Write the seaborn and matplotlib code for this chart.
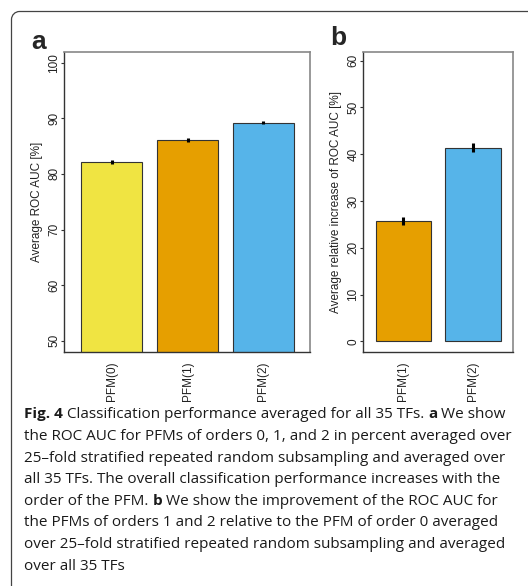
import numpy as np
import pandas as pd
import matplotlib
matplotlib.use('Agg')
import matplotlib.pyplot as plt
from matplotlib.patches import PathPatch
from matplotlib.path import Path
from matplotlib.transforms import IdentityTransform
import seaborn as sns

# panel a: average ROC AUC per PFM order
models_a = ['PFM(0)', 'PFM(1)', 'PFM(2)']
auc_mean = [82.2, 86.1, 89.2]
auc_err = [0.35, 0.3, 0.3]

# panel b: relative increase versus PFM(0)
models_b = ['PFM(1)', 'PFM(2)']
inc_mean = [25.7, 41.4]
inc_err = [0.9, 0.9]

colors = {'PFM(0)': '#F0E442', 'PFM(1)': '#E69F00', 'PFM(2)': '#56B4E9'}

caption = [
    [('Fig. 4', True), (' Classification performance averaged for all 35 TFs. ', False),
     ('a', True), (' We show', False)],
    [('the ROC AUC for PFMs of orders 0, 1, and 2 in percent averaged over', False)],
    [('25\u2013fold stratified repeated random subsampling and averaged over', False)],
    [('all 35 TFs. The overall classification performance increases with the', False)],
    [('order of the PFM. ', False), ('b', True), (' We show the improvement of the ROC AUC for', False)],
    [('the PFMs of orders 1 and 2 relative to the PFM of order 0 averaged', False)],
    [('over 25\u2013fold stratified repeated random subsampling and averaged', False)],
    [('over all 35 TFs', False)],
]

sns.set_style('white')
plt.rcParams['font.family'] = ['Liberation Sans', 'DejaVu Sans']

W, H = 528, 586
fig = plt.figure(figsize=(W / 100, H / 100), dpi=100)


def px_axes(x0, x1, y0, y1):
    return fig.add_axes([x0 / W, 1 - y1 / H, (x1 - x0) / W, (y1 - y0) / H])


def style_axes(ax, ylabel, ticks):
    ax.set_ylabel(ylabel, fontsize=8.5, color='#222222', labelpad=4)
    ax.set_xlabel('')
    ax.set_yticks(ticks)
    ax.set_yticklabels([str(t) for t in ticks], rotation=90, va='center', fontsize=8.5, color='#222222')
    ax.tick_params(axis='y', left=True, length=2.2, width=0.8, pad=0.5, color='#333333')
    ax.tick_params(axis='x', bottom=False, pad=3)
    for lab in ax.get_xticklabels():
        lab.set_rotation(90)
        lab.set_fontsize(8.5)
        lab.set_va('top')
        lab.set_color('#222222')
    for side in ['left', 'bottom']:
        ax.spines[side].set_color('#333333')
        ax.spines[side].set_linewidth(1.0)
    for side in ['top', 'right']:
        ax.spines[side].set_color('#888888')
        ax.spines[side].set_linewidth(1.2)


# panel a
df_a = pd.DataFrame({'model': models_a, 'auc': auc_mean})
ax1 = px_axes(64, 310, 52, 352)
sns.barplot(data=df_a, x='model', y='auc', hue='model', palette=colors, legend=False, saturation=1,
            width=0.8, edgecolor='#333333', linewidth=0.8, errorbar=None, ax=ax1)
ax1.errorbar(range(len(models_a)), auc_mean, yerr=auc_err, fmt='none', ecolor='black',
             elinewidth=2.2, capsize=0)
ax1.set_xlim(-0.63, 2.616)
ax1.set_ylim(48.0, 101.9)
style_axes(ax1, 'Average ROC AUC [%]', [50, 60, 70, 80, 90, 100])

# panel b
df_b = pd.DataFrame({'model': models_b, 'inc': inc_mean})
ax2 = px_axes(363, 512.5, 52, 352)
sns.barplot(data=df_b, x='model', y='inc', hue='model', palette=colors, legend=False, saturation=1,
            width=0.8, edgecolor='#333333', linewidth=0.8, errorbar=None, ax=ax2)
ax2.errorbar(range(len(models_b)), inc_mean, yerr=inc_err, fmt='none', ecolor='black',
             elinewidth=2.2, capsize=0)
ax2.set_xlim(-0.584, 1.573)
ax2.set_ylim(-2.29, 61.86)
style_axes(ax2, 'Average relative increase of ROC AUC [%]', [0, 10, 20, 30, 40, 50, 60])

# panel letters
fig.text(31 / W, 1 - 49 / H, 'a', fontsize=19, fontweight='bold', va='baseline', ha='left')
fig.text(330 / W, 1 - 45 / H, 'b', fontsize=19, fontweight='bold', va='baseline', ha='left')

# rounded frame: only the left and top edges are inside the picture
fx, fy, r = 11.5, H - 11.5, 8
k = 0.5523 * r
verts = [(fx, -10), (fx, fy - r),
         (fx, fy - r + k), (fx + r - k, fy), (fx + r, fy),
         (W + 10, fy)]
codes = [Path.MOVETO, Path.LINETO, Path.CURVE4, Path.CURVE4, Path.CURVE4, Path.LINETO]
frame = PathPatch(Path(verts, codes), transform=IdentityTransform(), facecolor='none',
                  edgecolor='#444444', linewidth=0.9)
frame.set_clip_on(False)
fig.patches.append(frame)

# caption
renderer = fig.canvas.get_renderer()
cap_font = ['Open Sans', 'DejaVu Sans']
baselines = [418, 440, 462, 483, 505, 526, 548, 570]
for line, yb in zip(caption, baselines):
    x = 24
    for txt, bold in line:
        t = fig.text(x / W, 1 - yb / H, txt, fontsize=10.95, family=cap_font,
                     fontweight='bold' if bold else 'normal', va='baseline', ha='left', color='#1a1a1a')
        bb = t.get_window_extent(renderer=renderer)
        x = bb.x1

fig.savefig('out.png', dpi=100)
